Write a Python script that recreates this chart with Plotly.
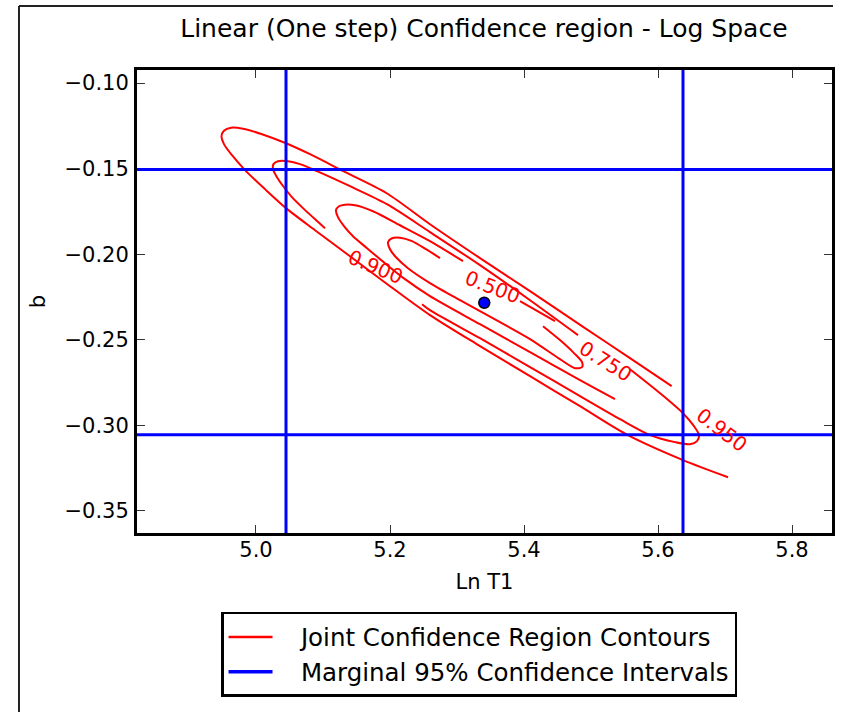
import plotly.graph_objects as go

# ---------------- data ----------------
x_ticks = [5.0, 5.2, 5.4, 5.6, 5.8]
y_ticks = [-0.35, -0.30, -0.25, -0.20, -0.15, -0.10]
x_range = [4.8224, 5.8597]
y_range = [-0.3629, -0.0924]

estimate_x = [5.3407]
estimate_y = [-0.2284]

marginal_lnT1 = [5.0448, 5.6373]   # marginal 95% interval of Ln T1
marginal_b = [-0.3055, -0.1505]    # marginal 95% interval of b

# contour pieces (what remains visible after the inline labels)
c950_x = [5.6204, 5.5582, 5.4910, 5.4090, 5.3343, 5.2597, 5.1951, 5.1303, 5.0806, 5.0448,
          5.0090, 4.9806, 4.9627, 4.9522, 4.9485, 4.9522, 4.9642, 4.9836, 5.0134, 5.0448,
          5.0881, 5.1403, 5.2000, 5.2597, 5.3343, 5.4090, 5.4836, 5.5522, 5.6373, 5.7045]
c950_y = [-0.2771, -0.2607, -0.2432, -0.2216, -0.2023, -0.1825, -0.1644, -0.1515, -0.1416, -0.1352,
          -0.1299, -0.1267, -0.1261, -0.1279, -0.1311, -0.1357, -0.1422, -0.1509, -0.1620, -0.1731,
          -0.1860, -0.2012, -0.2187, -0.2356, -0.2537, -0.2713, -0.2888, -0.3051, -0.3203, -0.3303]

c900a_x = [5.1030, 5.0866, 5.0701, 5.0537, 5.0418, 5.0313, 5.0254, 5.0261, 5.0328, 5.0478,
           5.0657, 5.0910, 5.1403, 5.1955, 5.2597, 5.3343, 5.4090, 5.4806]
c900a_y = [-0.1848, -0.1790, -0.1731, -0.1667, -0.1609, -0.1550, -0.1503, -0.1474, -0.1457, -0.1457,
           -0.1474, -0.1515, -0.1603, -0.1708, -0.1871, -0.2064, -0.2269, -0.2473]
c900b_x = [5.5582, 5.6030, 5.6373, 5.6537, 5.6612, 5.6582, 5.6478, 5.6254, 5.5881, 5.5433,
           5.4836, 5.4090, 5.3343, 5.2597, 5.2478]
c900b_y = [-0.2672, -0.2812, -0.2929, -0.3005, -0.3057, -0.3092, -0.3110, -0.3098, -0.3057, -0.2964,
           -0.2829, -0.2660, -0.2491, -0.2327, -0.2292]

c750a_x = [5.3090, 5.2597, 5.2149, 5.1746, 5.1478, 5.1328, 5.1239, 5.1194, 5.1224, 5.1313,
           5.1448, 5.1657, 5.1925, 5.2224, 5.2597, 5.3343, 5.4090, 5.4836, 5.5358]
c750a_y = [-0.2041, -0.1924, -0.1831, -0.1749, -0.1714, -0.1711, -0.1720, -0.1743, -0.1784, -0.1836,
           -0.1895, -0.1965, -0.2053, -0.2146, -0.2245, -0.2409, -0.2572, -0.2736, -0.2847]
c750b_x = [5.3940, 5.4463]
c750b_y = [-0.2275, -0.2391]

c500_x = [5.4284, 5.4537, 5.4746, 5.4866, 5.4866, 5.4761, 5.4537, 5.4090, 5.3642, 5.3045,
          5.2597, 5.2269, 5.2090, 5.2000, 5.1970, 5.2030, 5.2149, 5.2328, 5.2537, 5.2746]
c500_y = [-0.2421, -0.2502, -0.2578, -0.2631, -0.2660, -0.2666, -0.2613, -0.2496, -0.2397, -0.2269,
          -0.2169, -0.2082, -0.2018, -0.1971, -0.1930, -0.1907, -0.1904, -0.1924, -0.1971, -0.2023]

label_text = ["0.900", "0.500", "0.750", "0.950"]
label_x = [5.1788, 5.3530, 5.5209, 5.6951]
label_y = [-0.2075, -0.2192, -0.2625, -0.3028]
label_angle = [23, 21, 32, 37]

legend_names = ["Joint Confidence Region Contours", "Marginal 95% Confidence Intervals"]

# ---------------- figure ----------------
FONT = "DejaVu Sans"
RED = "#ff0000"
BLUE = "#0000ff"
PAD = "\u00a0\u00a0\u00a0"

fig = go.Figure()

pieces = [(c950_x, c950_y), (c900a_x, c900a_y), (c900b_x, c900b_y),
          (c750a_x, c750a_y), (c750b_x, c750b_y), (c500_x, c500_y)]
for px, py in pieces:
    fig.add_trace(go.Scatter(x=px, y=py, mode="lines",
                             line=dict(color=RED, width=2, shape="spline", smoothing=0.8),
                             showlegend=False, hoverinfo="skip"))

for v in marginal_lnT1:
    fig.add_vline(x=v, line=dict(color=BLUE, width=3))
for v in marginal_b:
    fig.add_hline(y=v, line=dict(color=BLUE, width=3))

fig.add_trace(go.Scatter(x=estimate_x, y=estimate_y, mode="markers",
                         marker=dict(color=BLUE, size=11, line=dict(color="black", width=1.5)),
                         showlegend=False))

# legend entries
fig.add_trace(go.Scatter(x=[None], y=[None], mode="lines", name=PAD + legend_names[0],
                         line=dict(color=RED, width=2.5)))
fig.add_trace(go.Scatter(x=[None], y=[None], mode="lines", name=PAD + legend_names[1],
                         line=dict(color=BLUE, width=3.5)))

for t, lx, ly, ang in zip(label_text, label_x, label_y, label_angle):
    fig.add_annotation(x=lx, y=ly, text=t, showarrow=False, textangle=ang,
                       font=dict(family=FONT, size=20, color=RED),
                       xanchor="center", yanchor="middle")

axis_common = dict(showgrid=False, zeroline=False, showline=True, linecolor="black", linewidth=3,
                   mirror="ticks", ticks="inside", ticklen=8, tickwidth=1, tickcolor="#333333",
                   tickfont=dict(family=FONT, size=21, color="black"))

fig.update_layout(
    width=846, height=712, autosize=False,
    margin=dict(l=137, r=14, t=70, b=179),
    paper_bgcolor="white", plot_bgcolor="white",
    font=dict(family=FONT, color="black"),
    title=dict(text="Linear (One step) Confidence region - Log Space",
               x=0.572, xanchor="center", y=1 - 28 / 712, yanchor="middle",
               font=dict(family=FONT, size=25, color="black")),
    xaxis=dict(range=x_range, tickvals=x_ticks, tickformat=".1f", ticklabelstandoff=-4,
               title=dict(text="Ln T1", font=dict(family=FONT, size=21), standoff=14),
               **axis_common),
    yaxis=dict(range=y_range, tickvals=y_ticks, tickformat=".2f", ticklabelstandoff=1,
               title=dict(text="b", font=dict(family=FONT, size=21), standoff=14),
               **axis_common),
    legend=dict(x=0.1209, xanchor="left", y=-0.1706, yanchor="top",
                bgcolor="white", bordercolor="black", borderwidth=2.5,
                font=dict(family=FONT, size=24.5, color="black"),
                itemwidth=44, tracegroupgap=0),
    showlegend=True,
)

# outer frame of the figure canvas (left and top edges visible in the picture)
fig.add_shape(type="line", xref="paper", yref="paper", x0=-0.1698, x1=-0.1698, y0=1.1382, y1=-0.40,
              line=dict(color="#222222", width=2))
fig.add_shape(type="line", xref="paper", yref="paper", x0=-0.1698, x1=1.0014, y0=1.1382, y1=1.1382,
              line=dict(color="#222222", width=2))

fig.write_html("out.html")
